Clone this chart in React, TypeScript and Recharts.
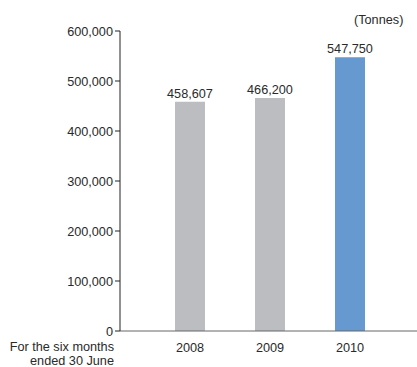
import React from 'react';
import { BarChart, Bar, XAxis, YAxis, Cell, LabelList } from 'recharts';

const years = ['2008', '2009', '2010'];
const tonnes = [458607, 466200, 547750];
const barColors = ['#bcbdc0', '#bcbdc0', '#6699d0'];
const yTicks = [0, 100000, 200000, 300000, 400000, 500000, 600000];

const data = years.map((y, i) => ({ year: y, value: tonnes[i] }));
const fmt = (v: number) => v.toLocaleString('en-US');
const font = '"Liberation Sans", Arial, sans-serif';
const fs = 12.7;
const txt = '#2a2a2a';

export default function App() {
  return (
    <div style={{ position: 'relative', width: 417, height: 367, fontFamily: font }}>
      <style>{'body{margin:0}'}</style>
      <BarChart
        width={417}
        height={367}
        data={data}
        margin={{ top: 31, right: 0, bottom: 0, left: 0 }}
      >
        <XAxis
          dataKey="year"
          height={36}
          padding={{ left: 30, right: 27 }}
          axisLine={{ stroke: '#666', strokeWidth: 1 }}
          tickLine={false}
          tickSize={10}
          tick={{ fill: txt, fontSize: fs, fontFamily: font }}
        />
        <YAxis
          width={120}
          domain={[0, 600000]}
          ticks={yTicks}
          interval={0}
          tickFormatter={fmt}
          axisLine={{ stroke: '#222', strokeWidth: 1 }}
          tickLine={{ stroke: '#222' }}
          tickSize={5}
          tickMargin={2}
          tick={{ fill: txt, fontSize: fs, fontFamily: font }}
        />
        <Bar dataKey="value" barSize={30} isAnimationActive={false}>
          {data.map((d, i) => (
            <Cell key={d.year} fill={barColors[i]} />
          ))}
          <LabelList
            dataKey="value"
            position="top"
            offset={4}
            formatter={(v: any) => fmt(Number(v))}
            style={{ fill: txt, fontSize: fs, fontFamily: font }}
          />
        </Bar>
      </BarChart>
      <div
        style={{
          position: 'absolute',
          left: 354,
          top: 13,
          fontSize: fs,
          color: txt,
          whiteSpace: 'nowrap',
        }}
      >
        (Tonnes)
      </div>
      <div
        style={{
          position: 'absolute',
          right: 417 - 114,
          top: 340,
          fontSize: fs,
          lineHeight: '14px',
          color: txt,
          textAlign: 'right',
          whiteSpace: 'nowrap',
        }}
      >
        For the six months
        <br />
        ended 30 June
      </div>
    </div>
  );
}
